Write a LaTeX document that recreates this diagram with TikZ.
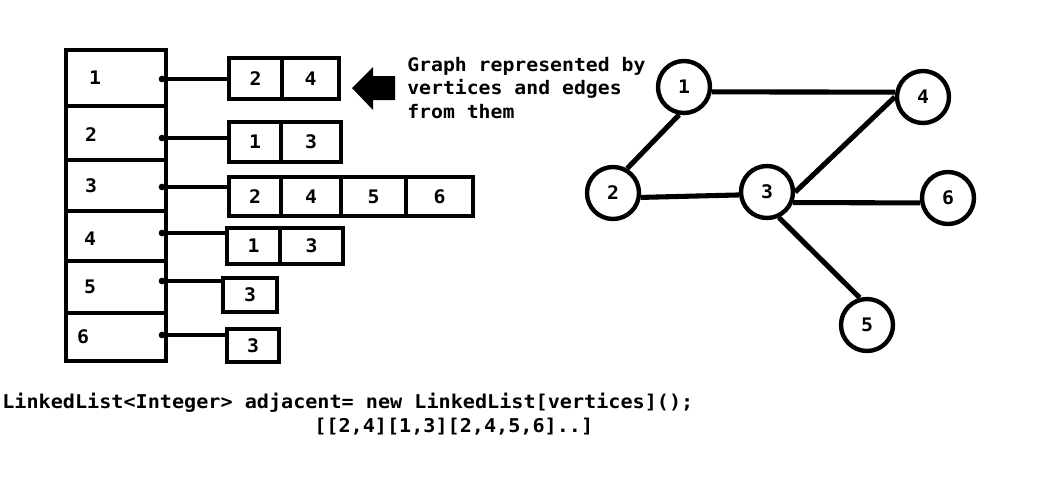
\documentclass[tikz,border=0pt]{standalone}
\usepackage{fontspec}
\setmainfont[FakeStretch=1.06]{DejaVu Sans Mono}
\usetikzlibrary{positioning}

\tikzset{
  cell/.style={draw, line width=3.3pt, inner sep=0pt, outer sep=0pt},
  vert/.style={draw, circle, line width=3.3pt, minimum size=39pt, inner sep=0pt},
  link/.style={line width=3.3pt},
  edge/.style={line width=3.8pt},
  pin/.style={circle, fill, inner sep=0pt, minimum size=5pt},
  txt/.style={inner sep=0pt, align=left},
}

\begin{document}
\begin{tikzpicture}[x=.75pt, y=-.75pt, font=\bfseries\fontsize{14}{17.6}\selectfont]
    \fill[white] (0,0) rectangle (1039,497);
    \useasboundingbox (0,0) rectangle (1039,497);

    % array of heads
    \foreach \n/\t/\b in {1/50/106, 2/106/160, 3/160/211, 4/211/261, 5/261/313, 6/313/361}
    \node[cell, anchor=north west, minimum width=75pt, minimum height={(\b-\t)*0.75pt}] (r\n) at (66,\t) {};
    \foreach \n/\x/\y in {1/95/78, 2/91/135, 3/91/186, 4/90/239, 5/90/287, 6/83/337}
    \node (k\n) at (\x,\y) {\n};
    \foreach \n/\y in {1/79, 2/138, 3/187, 4/233, 5/281, 6/335}
    \node[pin] (p\n) at (162,\y) {};

    % lists
    \foreach \c/\l/\r/\t/\b/\v in {a1/229/282/58/99/2, a2/282/339/58/99/4,
        b1/229/281/122/162/1, b2/281/341/122/162/3,
        c1/229/281/177/216/2, c2/281/341/177/216/4, c3/341/406/177/216/5, c4/406/473/177/216/6,
        d1/227/280/228/264/1, d2/280/343/228/264/3,
        e1/223/277/278/312/3,
        f1/227/279/329/362/3}
    \node[cell, anchor=north west, minimum width={(\r-\l)*0.75pt}, minimum height={(\b-\t)*0.75pt}] (\c) at (\l,\t) {\v};

    \foreach \n/\c in {1/a1, 2/b1, 3/c1, 4/d1, 5/e1, 6/f1}
    \draw[link] (p\n) -- (p\n -| \c.west);

    % arrow and note
    \fill (352,88) -- (373,67) -- (373,76) -- (395,76) -- (395,100) -- (373,100) -- (373,110) -- cycle;
    \node[txt, anchor=west] (note) at (407,88) {Graph represented by\\vertices and edges\\from them};

    % graph
    \node[vert] (n1) at (684,87) {1};
    \node[vert] (n2) at (613,193) {2};
    \node[vert] (n3) at (767,192) {3};
    \node[vert] (n4) at (923,97) {4};
    \node[vert] (n5) at (867,325) {5};
    \node[vert] (n6) at (948,198) {6};
    \draw[edge] (n1.-10) -- (n4.170);
    \draw[edge] (n1.-100) -- (n2.60);
    \draw[edge] (n2.-9) -- (n3.186);
    \draw[edge] (n3.east) -- (n4.west);
    \draw[edge] (n3.-22) -- (n6.190);
    \draw[edge] (n3.-65) -- (n5.105);

    % code
    \node[txt, anchor=west, font=\bfseries\fontsize{14.25}{17}\selectfont] (code1) at (2,403) {LinkedList<Integer> adjacent= new LinkedList[vertices]();};
    \node[txt, anchor=west, font=\bfseries\fontsize{14.25}{17}\selectfont] (code2) at (314,427) {[[2,4][1,3][2,4,5,6]..]};

  \end{tikzpicture}
\end{document}
